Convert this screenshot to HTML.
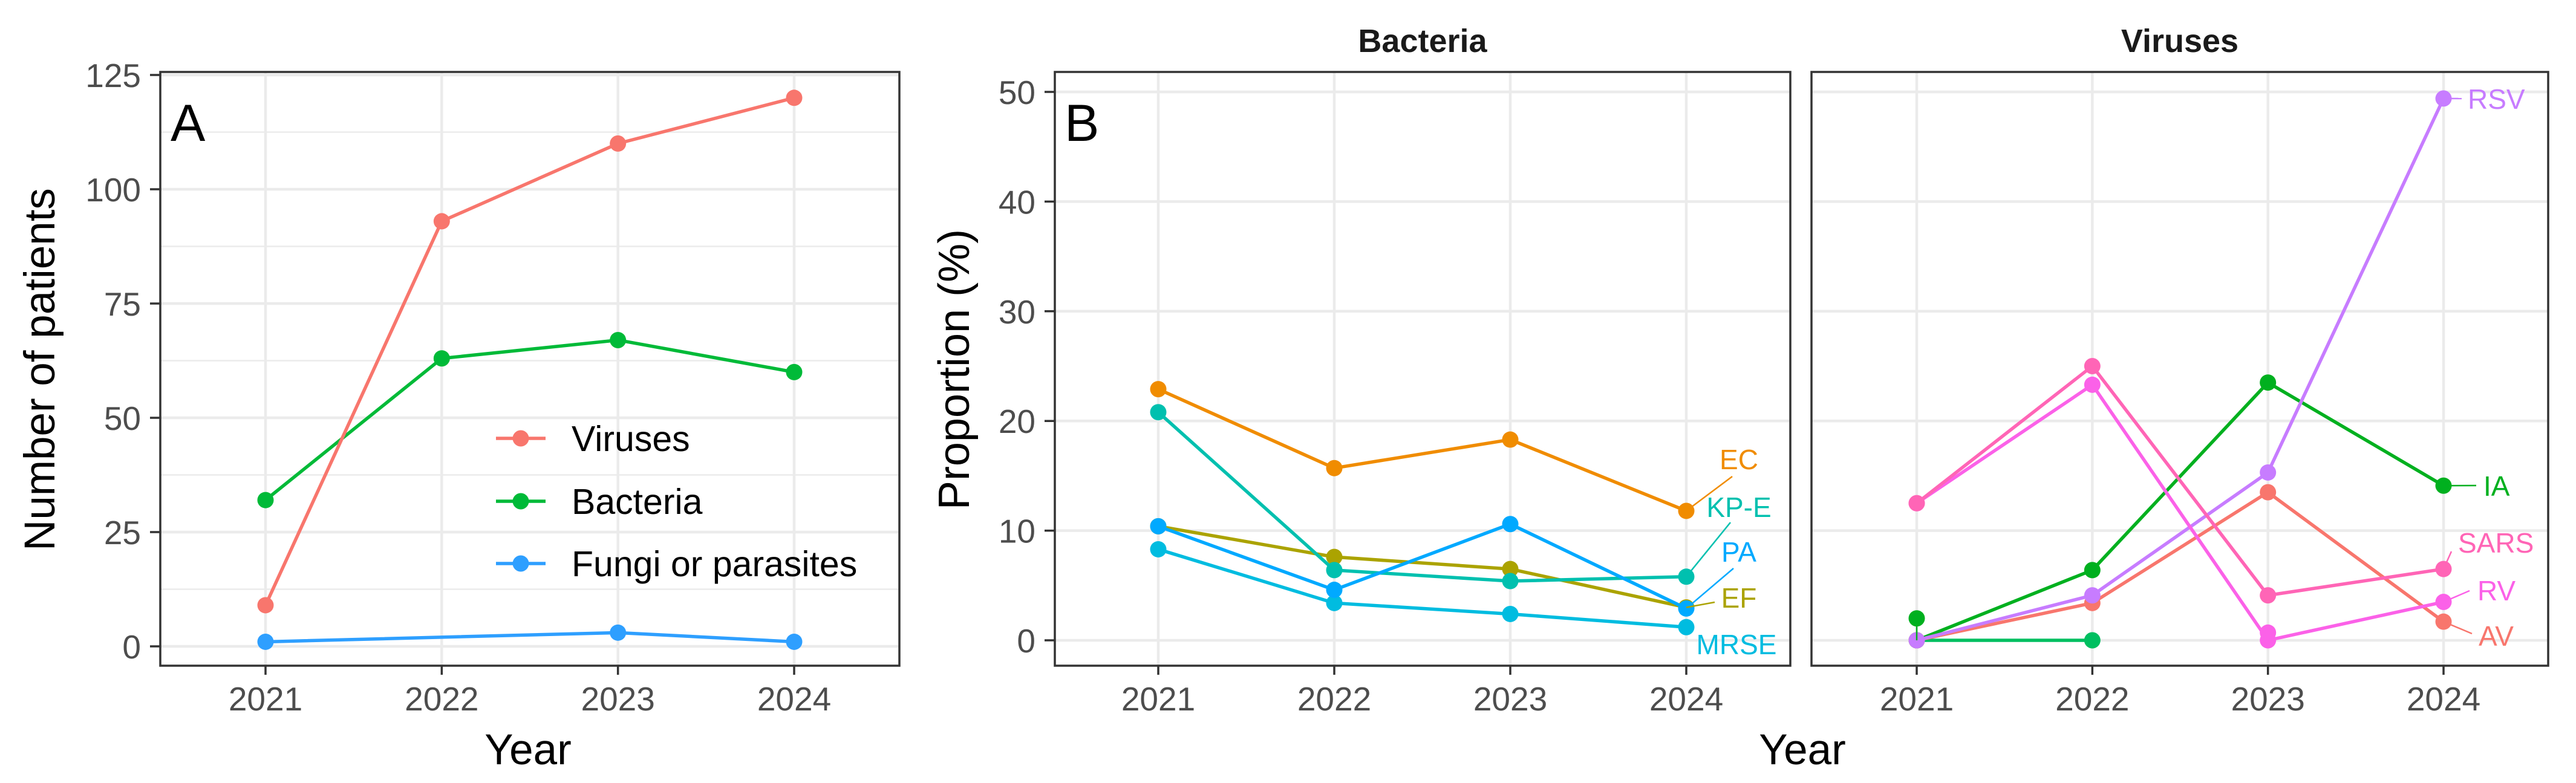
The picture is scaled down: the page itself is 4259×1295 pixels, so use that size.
<!DOCTYPE html>
<html><head><meta charset="utf-8"><style>
html,body{margin:0;padding:0;background:#fff;}
svg{display:block;font-family:"Liberation Sans",Arial,sans-serif;}
</style></head><body>
<svg id="chart" width="4259" height="1295" viewBox="0 0 4259 1295"></svg>
<script>
// Panel A data
const yearsA = [2021, 2022, 2023, 2024];
const seriesAnames = ["Viruses", "Bacteria", "Fungi or parasites"];
const virusesA = [9, 93, 110, 120];
const bacteriaA = [32, 63, 67, 60];
const fungiA = [1, null, 3, 1];
const ticksA = [0, 25, 50, 75, 100, 125];
// Panel B bacteria data
const bactNames = ["EC", "KP-E", "PA", "EF", "MRSE"];
const EC = [22.9, 15.7, 18.3, 11.8];
const KPE = [20.8, 6.4, 5.4, 5.8];
const PA = [10.4, 4.6, 10.6, 2.9];
const EF = [10.4, 7.6, 6.5, 3.0];
const MRSE = [8.3, 3.4, 2.4, 1.2];
// Panel B virus data
const virNames = ["RSV", "IA", "SARS", "RV", "AV"];
const RSV = [0, 4.1, 15.3, 49.4];
const IA = [0, 6.4, 23.5, 14.1];
const SARS = [12.5, 25.0, 4.1, 6.5];
const RV = [12.5, 23.3, 0, 3.5];
const AV = [0, 3.4, 13.5, 1.7];
const OTHER0 = [0, 0, null, null];
const IB = [2.0, null, null, null];
const RVextra = [null, null, 0.7, null];
const ticksB = [0, 10, 20, 30, 40, 50];

const NS = "http://www.w3.org/2000/svg";
const svg = document.getElementById("chart");
function mk(tag, attrs, parent) {
  const e = document.createElementNS(NS, tag);
  for (const k in attrs) e.setAttribute(k, attrs[k]);
  (parent || svg).appendChild(e);
  return e;
}
function txt(s, attrs, parent) { const e = mk("text", attrs, parent); e.textContent = s; return e; }

function panel(cfg) {
  const g = mk("g", {});
  
  
  const xs = i => cfg.x0 + (cfg.x1 - cfg.x0) * i / 3;
  const ys = v => cfg.y0 + (cfg.yTop - cfg.y0) * (v / cfg.vTop);
  if (cfg.minor) {
    for (let k = 0; k < cfg.ticks.length - 1; k++) {
      const v = (cfg.ticks[k] + cfg.ticks[k + 1]) / 2;
      const l = mk("line", {x1: cfg.L, x2: cfg.R, y1: ys(v), y2: ys(v), stroke: "#EBEBEB", "stroke-width": 2.5}, g);
      
      
    }
  }
  cfg.ticks.forEach(v => {
    const l = mk("line", {x1: cfg.L, x2: cfg.R, y1: ys(v), y2: ys(v), stroke: "#EBEBEB", "stroke-width": 4.5}, g);
    
    
  });
  for (let i = 0; i < 4; i++) {
    const l = mk("line", {x1: xs(i), x2: xs(i), y1: cfg.T, y2: cfg.B, stroke: "#EBEBEB", "stroke-width": 4.5}, g);
    
    
  }
  cfg.series.forEach(s => {
    const sg = mk("g", {}, g);
    
    
    const pts = [];
    s.values.forEach((v, i) => { if (v !== null) pts.push([xs(i), ys(v)]); });
    if (pts.length > 1) {
      const p = mk("polyline", {points: pts.map(p => p.join(",")).join(" "), fill: "none", stroke: s.color, "stroke-width": 5.5, "stroke-linejoin": "round"}, sg);
      
      
    }
    pts.forEach(p => {
      const c = mk("circle", {cx: p[0], cy: p[1], r: 13.5, fill: s.color}, sg);
      
      
    });
  });
  const b = mk("rect", {x: cfg.L, y: cfg.T, width: cfg.R - cfg.L, height: cfg.B - cfg.T, fill: "none", stroke: "#333333", "stroke-width": 3.5}, g);
  
  
  for (let i = 0; i < 4; i++) {
    const t = mk("line", {x1: xs(i), x2: xs(i), y1: cfg.B, y2: cfg.B + 15, stroke: "#333333", "stroke-width": 3.5}, g);
    
    
    const tl = txt(String(yearsA[i]), {x: xs(i), y: cfg.B + 74, "font-size": 55, fill: "#4D4D4D", "text-anchor": "middle"}, g);
    
    
  }
  if (cfg.yLabels) {
    cfg.ticks.forEach(v => {
      const t = mk("line", {x1: cfg.L - 17, x2: cfg.L, y1: ys(v), y2: ys(v), stroke: "#333333", "stroke-width": 3.5}, g);
      
      
      const tl = txt(String(v), {x: cfg.L - 32, y: ys(v) + 20, "font-size": 55, fill: "#4D4D4D", "text-anchor": "end"}, g);
      
      
    });
  }
  return {xs, ys, g};
}

// Panel A
const pA = panel({name: "panel-a", L: 265, R: 1487, T: 119, B: 1101, x0: 439, x1: 1313, y0: 1069, yTop: 124, vTop: 125,
  ticks: ticksA, minor: true, yLabels: true,
  series: [
    {label: "Fungi or parasites", values: fungiA, color: "#2E9FFF"},
    {label: "Bacteria", values: bacteriaA, color: "#00BA38"},
    {label: "Viruses", values: virusesA, color: "#F8766D"}
  ]});
let t = txt("A", {x: 282, y: 233, "font-size": 86, fill: "#000"});
 
t = txt("Year", {x: 873, y: 1264, "font-size": 71, fill: "#000", "text-anchor": "middle"});
 
t = txt("Number of patients", {x: 0, y: 0, "font-size": 71, fill: "#000", "text-anchor": "middle", transform: "translate(90,611) rotate(-90)"});
 
const legCols = ["#F8766D", "#00BA38", "#2E9FFF"];
const legY = [725, 829, 932];
seriesAnames.forEach((n, i) => {
  const lg = mk("g", {});
  
  
  mk("line", {x1: 820, x2: 902, y1: legY[i], y2: legY[i], stroke: legCols[i], "stroke-width": 5.5}, lg);
  mk("circle", {cx: 861, cy: legY[i], r: 13.5, fill: legCols[i]}, lg);
  txt(n, {x: 945, y: legY[i] + 21, "font-size": 59, fill: "#000"}, lg);
});

// Panel B bacteria
const bCols = {EC: "#F08C00", KPE: "#00C0AF", PA: "#00A9FF", EF: "#ABA300", MRSE: "#00BCE0"};
const pB = panel({name: "panel-b-bacteria", L: 1744, R: 2960, T: 119, B: 1101, x0: 1915, x1: 2788, y0: 1059, yTop: 152, vTop: 50,
  ticks: ticksB, minor: false, yLabels: true,
  series: [
    {label: "EF", values: EF, color: bCols.EF},
    {label: "MRSE", values: MRSE, color: bCols.MRSE},
    {label: "KP-E", values: KPE, color: bCols.KPE},
    {label: "PA", values: PA, color: bCols.PA},
    {label: "EC", values: EC, color: bCols.EC}
  ]});
const bLab = [
  ["EC", EC, bCols.EC, 2864, 788, 2875, 776],
  ["KP-E", KPE, bCols.KPE, 2861, 864, 2875, 855],
  ["PA", PA, bCols.PA, 2866, 940, 2875, 929],
  ["EF", EF, bCols.EF, 2835, 996, 2875, 1005],
  ["MRSE", MRSE, bCols.MRSE, null, null, 2871, 1082]
];
bLab.forEach(l => {
  const lg = mk("g", {});
  
  
  if (l[3] !== null) mk("line", {x1: pB.xs(3), y1: pB.ys(l[1][3]), x2: l[3], y2: l[4], stroke: l[2], "stroke-width": 2.5}, lg);
  txt(l[0], {x: l[5], y: l[6], "font-size": 46, fill: l[2], "text-anchor": "middle"}, lg);
});
t = txt("B", {x: 1760, y: 233, "font-size": 86, fill: "#000"});
 
t = txt("Bacteria", {x: 2352, y: 86, "font-size": 54, "font-weight": "bold", fill: "#1A1A1A", "text-anchor": "middle"});
 
t = txt("Proportion (%)", {x: 0, y: 0, "font-size": 72, fill: "#000", "text-anchor": "middle", transform: "translate(1602,611) rotate(-90)"});
 
t = txt("Year", {x: 2980, y: 1264, "font-size": 71, fill: "#000", "text-anchor": "middle"});
 

// Panel B viruses
const vCols = {RSV: "#C77CFF", IA: "#00B01F", SARS: "#FF65B6", RV: "#FB61E8", AV: "#F8766D", O: "#00BF60"};
const pV = panel({name: "panel-b-viruses", L: 2995, R: 4213, T: 119, B: 1101, x0: 3169, x1: 4040, y0: 1059, yTop: 152, vTop: 50,
  ticks: ticksB, minor: false, yLabels: false,
  series: [
    {label: "Other", values: OTHER0, color: vCols.O},
    {label: "IB", values: IB, color: vCols.IA},
    {label: "IA", values: IA, color: vCols.IA},
    {label: "AV", values: AV, color: vCols.AV},
    {label: "RSV", values: RSV, color: vCols.RSV},
    {label: "RV", values: RV, color: vCols.RV},
    {label: "RV extra", values: RVextra, color: vCols.RV},
    {label: "SARS", values: SARS, color: vCols.SARS}
  ]});
let seg = mk("line", {x1: pV.xs(0), y1: pV.ys(IB[0]), x2: pV.xs(0), y2: pV.ys(0), stroke: vCols.IA, "stroke-width": 2.5});
 
const vLab = [
  ["RSV", RSV, vCols.RSV, 4070, 163, 4080, 180],
  ["IA", IA, vCols.IA, 4094, 803, 4106, 820],
  ["SARS", SARS, vCols.SARS, 4053, 912, 4064, 914],
  ["RV", RV, vCols.RV, 4083, 977, 4096, 993],
  ["AV", AV, vCols.AV, 4087, 1048, 4098, 1068]
];
vLab.forEach(l => {
  const lg = mk("g", {});
  
  
  mk("line", {x1: pV.xs(3), y1: pV.ys(l[1][3]), x2: l[3], y2: l[4], stroke: l[2], "stroke-width": 2.5}, lg);
  txt(l[0], {x: l[5], y: l[6], "font-size": 46, fill: l[2]}, lg);
});
t = txt("Viruses", {x: 3604, y: 86, "font-size": 54, "font-weight": "bold", fill: "#1A1A1A", "text-anchor": "middle"});
 
</script>
</body></html>
